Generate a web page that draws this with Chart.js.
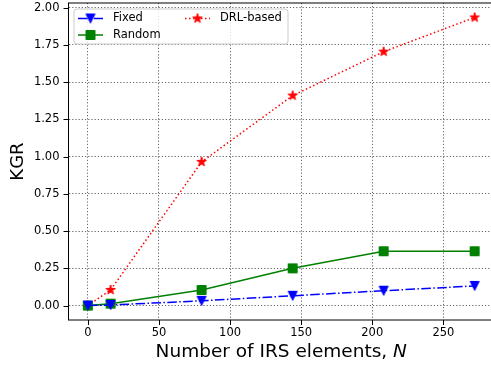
<!DOCTYPE html>
<html>
<head>
<meta charset="utf-8">
<script src="https://cdn.jsdelivr.net/npm/chart.js@4/dist/chart.umd.min.js"></script>
<style>
  html, body { margin: 0; padding: 0; background: #fff; overflow: hidden; width: 491px; height: 369px; }
  canvas { display: block; }
</style>
</head>
<body>
<canvas id="kgrChart" width="500" height="369"></canvas>
<script>
// ---- data ----
const irsElements = [0, 16, 80, 144, 208, 272];
const fixedKgr = [0.0, 0.004, 0.032, 0.066, 0.10, 0.132];
const randomKgr = [0.0, 0.013, 0.105, 0.25, 0.365, 0.365];
const drlKgr = [0.0, 0.105, 0.965, 1.41, 1.705, 1.935];
const seriesNames = ["Fixed", "Random", "DRL-based"];
const xTickValues = [0, 50, 100, 150, 200, 250];
const yTickValues = [0, 0.25, 0.5, 0.75, 1.0, 1.25, 1.5, 1.75, 2.0];

const FONT = "'DejaVu Sans', 'Liberation Sans', sans-serif";
const BLUE = "#0000ff";
const GREEN = "#008000";
const RED = "#ff0000";

// ---- marker images (matplotlib-like v, s, *) ----
function makeMarker(kind, color) {
  const c = document.createElement("canvas");
  c.width = 14;
  c.height = 14;
  const ctx = c.getContext("2d");
  ctx.translate(7, 7);
  ctx.fillStyle = color;
  ctx.strokeStyle = color;
  ctx.lineWidth = 1;
  ctx.lineJoin = "miter";
  ctx.beginPath();
  if (kind === "v") {
    ctx.moveTo(-4.5, -4.5);
    ctx.lineTo(4.5, -4.5);
    ctx.lineTo(0, 4.5);
  } else if (kind === "s") {
    ctx.rect(-4.5, -4.5, 9, 9);
  } else {
    const outer = 5, inner = outer * 0.381966;
    for (let i = 0; i < 10; i++) {
      const r = i % 2 === 0 ? outer : inner;
      const a = -Math.PI / 2 + i * Math.PI / 5;
      if (i === 0) ctx.moveTo(r * Math.cos(a), r * Math.sin(a));
      else ctx.lineTo(r * Math.cos(a), r * Math.sin(a));
    }
  }
  ctx.closePath();
  ctx.fill();
  ctx.stroke();
  return c;
}

const fixedMarker = makeMarker("v", BLUE);
const randomMarker = makeMarker("s", GREEN);
const drlMarker = makeMarker("*", RED);

const fixedDash = [9.6, 2.4, 1.5, 2.4];
const drlDash = [1.5, 2.5];

function toPoints(values) {
  return irsElements.map((x, i) => ({ x: x, y: values[i] }));
}

// ---- frame, outward ticks, axis titles, legend ----
const decorations = {
  id: "decorations",
  afterDatasetsDraw(chart) {
    const { ctx, chartArea: a, scales } = chart;
    ctx.save();
    ctx.strokeStyle = "#000";
    ctx.lineWidth = 1;
    ctx.setLineDash([]);
    ctx.strokeRect(a.left, a.top, a.right - a.left, a.bottom - a.top);
    ctx.beginPath();
    xTickValues.forEach((v) => {
      const px = Math.round(scales.x.getPixelForValue(v)) + 0.5;
      ctx.moveTo(px, a.bottom);
      ctx.lineTo(px, a.bottom + 5);
    });
    yTickValues.forEach((v) => {
      const py = Math.round(scales.y.getPixelForValue(v)) + 0.5;
      ctx.moveTo(a.left - 5, py);
      ctx.lineTo(a.left, py);
    });
    ctx.stroke();
    ctx.restore();
  },
  afterDraw(chart) {
    const { ctx, chartArea: a } = chart;
    ctx.save();
    // x title with italic N
    ctx.fillStyle = "#000";
    ctx.textBaseline = "alphabetic";
    const part1 = "Number of IRS elements, ";
    const part2 = "N";
    ctx.font = "18.5px " + FONT;
    const w1 = ctx.measureText(part1).width;
    ctx.font = "italic 18.5px " + FONT;
    const w2 = ctx.measureText(part2).width;
    const cx = (a.left + a.right) / 2;
    let sx = cx - (w1 + w2) / 2;
    ctx.font = "18.5px " + FONT;
    ctx.textAlign = "left";
    ctx.fillText(part1, sx, 357);
    ctx.font = "italic 18.5px " + FONT;
    ctx.fillText(part2, sx + w1, 357);

    // y title
    ctx.save();
    ctx.translate(18, (a.top + a.bottom) / 2);
    ctx.rotate(-Math.PI / 2);
    ctx.font = "18px " + FONT;
    ctx.textAlign = "center";
    ctx.textBaseline = "middle";
    ctx.fillText("KGR", 0, 0);
    ctx.restore();

    // legend box
    const bx = 74, by = 9, bw = 214, bh = 35, r = 3;
    ctx.beginPath();
    ctx.moveTo(bx + r, by);
    ctx.arcTo(bx + bw, by, bx + bw, by + bh, r);
    ctx.arcTo(bx + bw, by + bh, bx, by + bh, r);
    ctx.arcTo(bx, by + bh, bx, by, r);
    ctx.arcTo(bx, by, bx + bw, by, r);
    ctx.closePath();
    ctx.fillStyle = "rgba(255,255,255,0.8)";
    ctx.fill();
    ctx.strokeStyle = "#cccccc";
    ctx.lineWidth = 1;
    ctx.stroke();

    const entries = [
      { name: seriesNames[0], color: BLUE, dash: fixedDash, marker: fixedMarker, x: 78, y: 18.5 },
      { name: seriesNames[1], color: GREEN, dash: [], marker: randomMarker, x: 78, y: 35 },
      { name: seriesNames[2], color: RED, dash: drlDash, marker: drlMarker, x: 185, y: 18.5 }
    ];
    entries.forEach((e) => {
      ctx.beginPath();
      ctx.setLineDash(e.dash);
      ctx.strokeStyle = e.color;
      ctx.lineWidth = 1.5;
      ctx.moveTo(e.x, e.y);
      ctx.lineTo(e.x + 25, e.y);
      ctx.stroke();
      ctx.setLineDash([]);
      ctx.drawImage(e.marker, e.x + 12.5 - 7, e.y - 7);
      ctx.fillStyle = "#000";
      ctx.font = "11.5px " + FONT;
      ctx.textAlign = "left";
      ctx.textBaseline = "middle";
      ctx.fillText(e.name, e.x + 35, e.y);
    });
    ctx.restore();
  }
};

const kgrCanvas = document.getElementById("kgrChart");

const kgrChart = new Chart(kgrCanvas, {
  type: "line",
  data: {
    datasets: [
      {
        label: seriesNames[0],
        data: toPoints(fixedKgr),
        borderColor: BLUE,
        backgroundColor: BLUE,
        borderWidth: 1.5,
        borderDash: fixedDash,
        pointStyle: fixedMarker,
        pointRadius: 5,
        tension: 0,
        fill: false,
      },
      {
        label: seriesNames[1],
        data: toPoints(randomKgr),
        borderColor: GREEN,
        backgroundColor: GREEN,
        borderWidth: 1.5,
        pointStyle: randomMarker,
        pointRadius: 5,
        tension: 0,
        fill: false,
      },
      {
        label: seriesNames[2],
        data: toPoints(drlKgr),
        borderColor: RED,
        backgroundColor: RED,
        borderWidth: 1.5,
        borderDash: drlDash,
        pointStyle: drlMarker,
        pointRadius: 5,
        tension: 0,
        fill: false,
      },
    ],
  },
  options: {
    responsive: false,
    animation: false,
    layout: { autoPadding: false, padding: { top: 3, right: 6, left: 0, bottom: 0 } },
    scales: {
      x: {
        type: "linear",
        min: -13.6,
        max: 285.6,
        afterBuildTicks: (s) => { s.ticks = xTickValues.map((v) => ({ value: v })); },
        afterFit: (s) => { s.height = 49; s.paddingLeft = 0; s.paddingRight = 0; },
        ticks: {
          color: "#000",
          font: { family: FONT, size: 11.5 },
          padding: 6,
          maxRotation: 0,
          autoSkip: false,
        },
        grid: { color: "rgba(0,0,0,0.6)", lineWidth: 1, drawTicks: false },
        border: { display: false, dash: [1.2, 2] },
      },
      y: {
        min: -0.0968,
        max: 2.032,
        afterBuildTicks: (s) => { s.ticks = yTickValues.map((v) => ({ value: v })); },
        afterFit: (s) => { s.width = 68.5; s.paddingTop = 0; s.paddingBottom = 0; },
        ticks: {
          color: "#000",
          font: { family: FONT, size: 11.5 },
          padding: 9,
          callback: (v) => Number(v).toFixed(2),
        },
        grid: { color: "rgba(0,0,0,0.6)", lineWidth: 1, drawTicks: false },
        border: { display: false, dash: [1.2, 2] },
      },
    },
    plugins: {
      legend: { display: false },
      tooltip: { enabled: false },
    },
  },
  plugins: [decorations],
});
</script>
</body>
</html>
